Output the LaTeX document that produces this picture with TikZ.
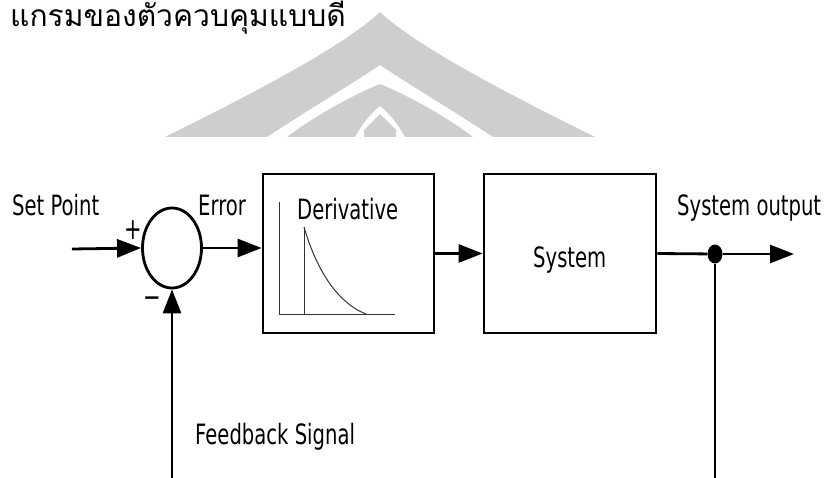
\documentclass[tikz,border=0pt]{standalone}
\usepackage{fontspec}
\setmainfont{DejaVu Sans}[FakeStretch=0.7]
\newfontfamily\thaifont[Script=Thai]{Loma}
\usetikzlibrary{arrows.meta,shapes.geometric}
\definecolor{wmgray}{RGB}{206,206,206}

\begin{document}
\begin{tikzpicture}[x=1pt,y=-1pt,
  lbl/.style={inner sep=0pt,font=\fontsize{28}{32}\selectfont},
  sgn/.style={inner sep=0pt,font=\fontsize{30}{32}\selectfont},
  blk/.style={draw,line width=2.8pt,minimum width=171pt,minimum height=159pt,inner sep=0pt},
  sig/.style={line width=2.8pt,-{Triangle[length=24pt,width=18pt]}},
  wire/.style={line width=2.8pt},
  axis/.style={line width=1pt,black!80}]

\useasboundingbox (0,0) rectangle (837,478);

% watermark
\fill[wmgray] (165,137) .. controls (260,90) and (345,45) .. (380,12)
   .. controls (415,45) and (500,90) .. (595,137) -- (493,137)
   .. controls (460,115) and (410,85) .. (380,65)
   .. controls (350,85) and (300,115) .. (267,137) -- cycle;
\fill[wmgray] (287,137) .. controls (320,112) and (360,92) .. (380,84)
   .. controls (400,92) and (440,112) .. (473,137) -- (405,137)
   .. controls (398,124) and (390,114) .. (380,106)
   .. controls (370,114) and (362,124) .. (355,137) -- cycle;
\fill[wmgray] (380,114) -- (396,130) -- (396,137) -- (364,137) -- (364,130) -- cycle;

\node[anchor=base west,inner sep=0pt,font=\thaifont\fontsize{30}{34}\selectfont] (title) at (10,27) {แกรมของตัวควบคุมแบบดี};

   \node[draw,ellipse,line width=2.8pt,minimum width=59pt,minimum height=80pt,inner sep=0pt] (sum) at (172,248) {};
   \node[blk] (deriv) at (348.5,253.5) {};
   \node[blk,minimum width=172pt] (sys) at (570,253.5) {};
   \node[ellipse,fill=black,minimum width=15pt,minimum height=19pt,inner sep=0pt] (dot) at (715,254) {};

   \node[lbl,anchor=base west] (setpt) at (12,216) {Set Point};
   \node[lbl,anchor=base west] (err) at (198,216) {Error};
   \node[lbl,anchor=base west] (derlbl) at (297,220) {Derivative};
   \node[lbl,anchor=base west] (syslbl) at (533,267) {System};
   \node[lbl,anchor=base west] (outlbl) at (677,216) {System output};
   \node[lbl,anchor=base west] (fblbl) at (195,444) {Feedback Signal};
   \node[sgn] (plus) at (133,230) {+};
   \node[sgn] (minus) at (152,302) {−};

   \coordinate (in) at (72,249);
   \coordinate (out) at (794,254);
   \coordinate (fbL) at (172,478);
   \coordinate (fbR) at (715,478);

   \path[draw,sig] (in) -- (sum.west);
   \path[draw,sig] (sum.east) -- (sum.east -| deriv.west);
   \path[draw,sig] (deriv.east) -- (sys.west);
   \path[draw,wire] (sys.east) -- (dot);
   \path[draw,sig] (dot) -- (out);
   \path[draw,wire] (dot) -- (fbR);
   \path[draw,sig] (fbL) -- (sum.south);

% impulse response
\draw[axis] (279,202) -- (279,314) -- (395,314);
\draw[axis] (304,227) -- (304,314);
\draw[axis] (304,227) .. controls (315,265) and (335,302) .. (366,314);

\end{tikzpicture}
\end{document}
